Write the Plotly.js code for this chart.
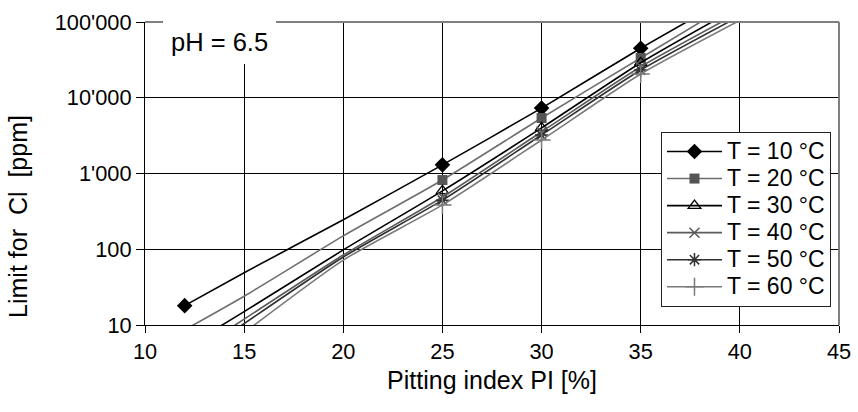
<!DOCTYPE html>
<html>
<head>
<meta charset="utf-8">
<script src="https://cdn.plot.ly/plotly-3.0.1.min.js"></script>
<style>
  html, body { margin: 0; padding: 0; background: #fff; }
  #chart { width: 858px; height: 412px; }
</style>
</head>
<body>
<div id="chart"></div>
<script>
// Series names
const seriesNames = ['T = 10 °C', 'T = 20 °C', 'T = 30 °C', 'T = 40 °C', 'T = 50 °C', 'T = 60 °C'];

// Pitting index (x) and Cl limit (y, ppm) along each curve; m = 1 where a marker is shown
const x10 = [12, 15, 20, 25, 30, 35, 38.5];
const y10 = [18, 49, 245, 1300, 7300, 45000, 150000];
const m10 = [1, 0, 0, 1, 1, 1, 0];

const x20 = [11.5, 15, 20, 25, 30, 35, 39];
const y20 = [7.3, 24, 150, 820, 5400, 33500, 143000];
const m20 = [0, 0, 0, 1, 1, 1, 0];

const x30 = [13, 15, 20, 25, 30, 35, 39];
const y30 = [7.2, 15, 98, 590, 4000, 29000, 115000];
const m30 = [0, 0, 0, 1, 1, 1, 0];

const x40 = [13.5, 20, 25, 30, 35, 40];
const y40 = [6.6, 84, 490, 3560, 25700, 135000];
const m40 = [0, 0, 1, 1, 1, 0];

const x50 = [14, 20, 25, 30, 35, 40];
const y50 = [6.9, 79, 445, 3220, 23200, 120000];
const m50 = [0, 0, 1, 1, 1, 0];

const x60 = [14.5, 20, 25, 30, 35, 40];
const y60 = [6.3, 72, 385, 2770, 20600, 105000];
const m60 = [0, 0, 1, 1, 1, 0];

// Axis ticks
const yTickVals = [10, 100, 1000, 10000, 100000];
const yTickText = ['10', '100', "1'000", "10'000", "100'000"];
const xTickVals = [10, 15, 20, 25, 30, 35, 40, 45];

const styles = [
  {line: '#000000', mc: '#000000', sym: 'diamond', size: 12, mlw: 0},
  {line: '#6e6e6e', mc: '#555555', sym: 'square', size: 10, mlw: 0},
  {line: '#000000', mc: '#000000', sym: 'triangle-up-open', size: 11, mlw: 1.3},
  {line: '#5a5a5a', mc: '#5a5a5a', sym: 'x-thin-open', size: 10, mlw: 1.5},
  {line: '#303030', mc: '#303030', sym: 'asterisk-open', size: 11, mlw: 1.5},
  {line: '#7a7a7a', mc: '#7a7a7a', sym: 'cross-thin-open', size: 13, mlw: 1.5}
];

const xs = [x10, x20, x30, x40, x50, x60];
const ys = [y10, y20, y30, y40, y50, y60];
const ms = [m10, m20, m30, m40, m50, m60];

const traces = seriesNames.map((name, i) => ({
  type: 'scatter',
  mode: 'lines+markers',
  name: '<span style="font-size:23px">' + name + '</span>',
  x: xs[i],
  y: ys[i],
  selectedpoints: ms[i].map((v, k) => v ? k : -1).filter(k => k >= 0),
  selected: {marker: {opacity: 1}},
  unselected: {marker: {opacity: 0}},
  line: {color: styles[i].line, width: 1.6, shape: 'spline', smoothing: 0.6},
  marker: {
    symbol: styles[i].sym,
    color: styles[i].mc,
    size: styles[i].size,
    line: {color: styles[i].mc, width: styles[i].mlw}
  }
}));

const font = {family: 'Liberation Sans, Arial, sans-serif', color: '#000'};

const layout = {
  width: 858,
  height: 412,
  margin: {l: 145, r: 19, t: 22, b: 87},
  paper_bgcolor: '#fff',
  plot_bgcolor: '#fff',
  font: Object.assign({size: 21}, font),
  showlegend: true,
  legend: {
    x: 0.7435, y: 0.637, xanchor: 'left', yanchor: 'top',
    bgcolor: '#fff', bordercolor: '#222', borderwidth: 1,
    font: Object.assign({size: 18.5}, font),
    itemwidth: 55,
    tracegroupgap: 0
  },
  xaxis: {
    range: [10, 45],
    tickvals: xTickVals,
    ticks: 'outside', ticklen: 7, tickcolor: '#000', tickwidth: 1,
    showline: true, linecolor: '#000', linewidth: 1,
    showgrid: true, gridcolor: '#000', gridwidth: 1,
    zeroline: false,
    tickfont: Object.assign({size: 21.8}, font),
    title: {text: 'Pitting index PI [%]', font: Object.assign({size: 25}, font), standoff: 8}
  },
  yaxis: {
    type: 'log',
    range: [1, 5],
    tickvals: yTickVals,
    ticktext: yTickText,
    ticks: 'outside', ticklen: 8, tickcolor: '#000', tickwidth: 1,
    showline: true, linecolor: '#000', linewidth: 1,
    showgrid: true, gridcolor: '#000', gridwidth: 1,
    zeroline: false,
    tickfont: Object.assign({size: 21.8}, font)
  },
  shapes: [
    {type: 'line', xref: 'paper', yref: 'paper', x0: 0, x1: 1, y0: 1, y1: 1, line: {color: '#808080', width: 2}, layer: 'above'},
    {type: 'line', xref: 'paper', yref: 'paper', x0: 1, x1: 1, y0: 0, y1: 1, line: {color: '#808080', width: 2}, layer: 'above'}
  ],
  annotations: [
    {
      xref: 'paper', yref: 'paper', x: 0.0259, y: 1.008, xanchor: 'left', yanchor: 'top',
      text: 'pH = 6.5', showarrow: false,
      font: Object.assign({size: 25.5}, font),
      bgcolor: '#fff', borderpad: 8, borderwidth: 0
    },
    {
      xref: 'paper', yref: 'paper', x: -0.183, y: 0.36, xanchor: 'center', yanchor: 'middle',
      text: 'Limit for\u00a0\u00a0Cl\u00a0\u00a0[ppm]', showarrow: false, textangle: -90,
      font: Object.assign({size: 25}, font)
    }
  ]
};

Plotly.newPlot('chart', traces, layout, {displayModeBar: false, staticPlot: true});
</script>
</body>
</html>
